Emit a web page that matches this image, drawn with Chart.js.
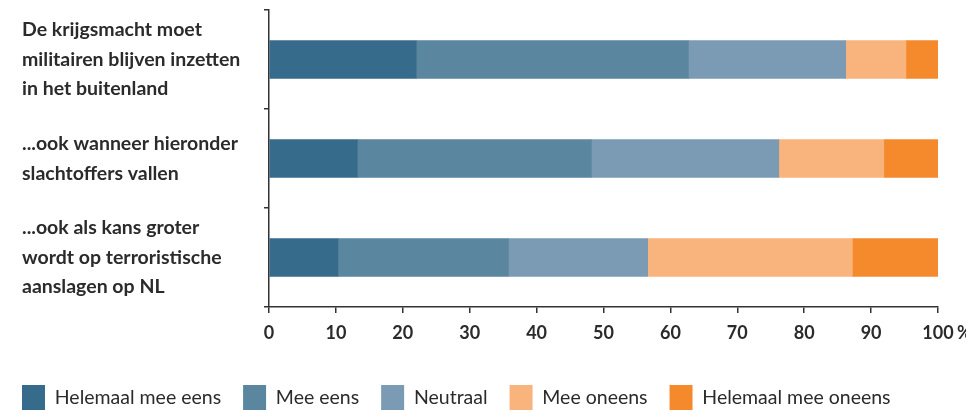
<!DOCTYPE html>
<html>
<head>
<meta charset="utf-8">
<script src="https://cdn.jsdelivr.net/npm/chart.js@4/dist/chart.umd.min.js"></script>
<style>
html,body{margin:0;padding:0;background:#fff;overflow:hidden;width:966px;height:410px;}
canvas{display:block;}
</style>
</head>
<body>
<canvas id="c" width="966" height="420"></canvas>
<script>
const categories = [
  ["De krijgsmacht moet", "militairen blijven inzetten", "in het buitenland"],
  ["...ook wanneer hieronder", "slachtoffers vallen"],
  ["...ook als kans groter", "wordt op terroristische", "aanslagen op NL"]
];
const seriesNames = ["Helemaal mee eens", "Mee eens", "Neutraal", "Mee oneens", "Helemaal mee oneens"];
const helemaalMeeEens = [22, 13.2, 10.3];
const meeEens = [40.7, 35, 25.5];
const neutraal = [23.5, 28, 20.8];
const meeOneens = [9, 15.7, 30.6];
const helemaalMeeOneens = [4.8, 8.1, 12.8];
const xTicks = [0, 10, 20, 30, 40, 50, 60, 70, 80, 90, 100];
const colors = ["#376b8b", "#5a86a0", "#7a9bb3", "#f9b37c", "#f58a2d"];

const TEXT = "#2b2b2b";
const FONT = "Lato, 'DejaVu Sans', sans-serif";
const LEGEND_PAD = 22;

const values = [helemaalMeeEens, meeEens, neutraal, meeOneens, helemaalMeeOneens];
const datasets = seriesNames.map((n, i) => ({
  label: n,
  data: values[i],
  backgroundColor: colors[i],
  borderWidth: 0,
  barThickness: 38
}));

const extras = {
  id: "extras",
  afterLayout(chart) {
    chart.legend.left = 22 - LEGEND_PAD;
  },
  afterDraw(chart) {
    const x = chart.scales.x;
    const ctx = chart.ctx;
    ctx.save();
    ctx.font = "bold 18px " + FONT;
    ctx.fillStyle = TEXT;
    ctx.textAlign = "left";
    ctx.textBaseline = "middle";
    ctx.fillText("%", x.getPixelForValue(100) + 19, x.top + 6 + 9 + 11);
    ctx.restore();
  }
};

new Chart(document.getElementById("c"), {
  type: "bar",
  data: { labels: categories, datasets },
  options: {
    indexAxis: "y",
    responsive: false,
    animation: false,
    layout: { padding: { left: 22, right: 0, top: 10, bottom: 0 } },
    plugins: {
      tooltip: { enabled: false },
      legend: {
        position: "bottom",
        align: "start",
        labels: {
          boxWidth: 23,
          boxHeight: 25,
          padding: LEGEND_PAD,
          color: TEXT,
          font: { family: FONT, size: 19.5 }
        }
      }
    },
    scales: {
      x: {
        stacked: true,
        type: "linear",
        min: 0,
        max: 100,
        afterBuildTicks(scale) { scale.ticks = xTicks.map(v => ({ value: v })); },
        afterFit(scale) { scale.height = 56; scale.paddingLeft = 0; scale.paddingRight = 28; },
        border: { display: true, color: "#333", width: 1.5 },
        grid: { drawOnChartArea: false, drawTicks: true, tickLength: 6, color: "#333", lineWidth: 1.5 },
        ticks: { color: TEXT, padding: 9, maxRotation: 0, font: { family: FONT, size: 18, weight: "bold" } }
      },
      y: {
        stacked: true,
        afterFit(scale) { scale.width = 269 - 22; scale.paddingTop = 0; scale.paddingBottom = 0; },
        border: { display: true, color: "#333", width: 1.5 },
        grid: { drawOnChartArea: false, drawTicks: true, tickLength: 5, color: "#333", lineWidth: 1.5, offset: true },
        ticks: {
          color: TEXT,
          crossAlign: "far",
          autoSkip: false,
          font: { family: FONT, size: 19.5, weight: "bold", lineHeight: 1.51 }
        }
      }
    }
  },
  plugins: [extras]
});
</script>
</body>
</html>
